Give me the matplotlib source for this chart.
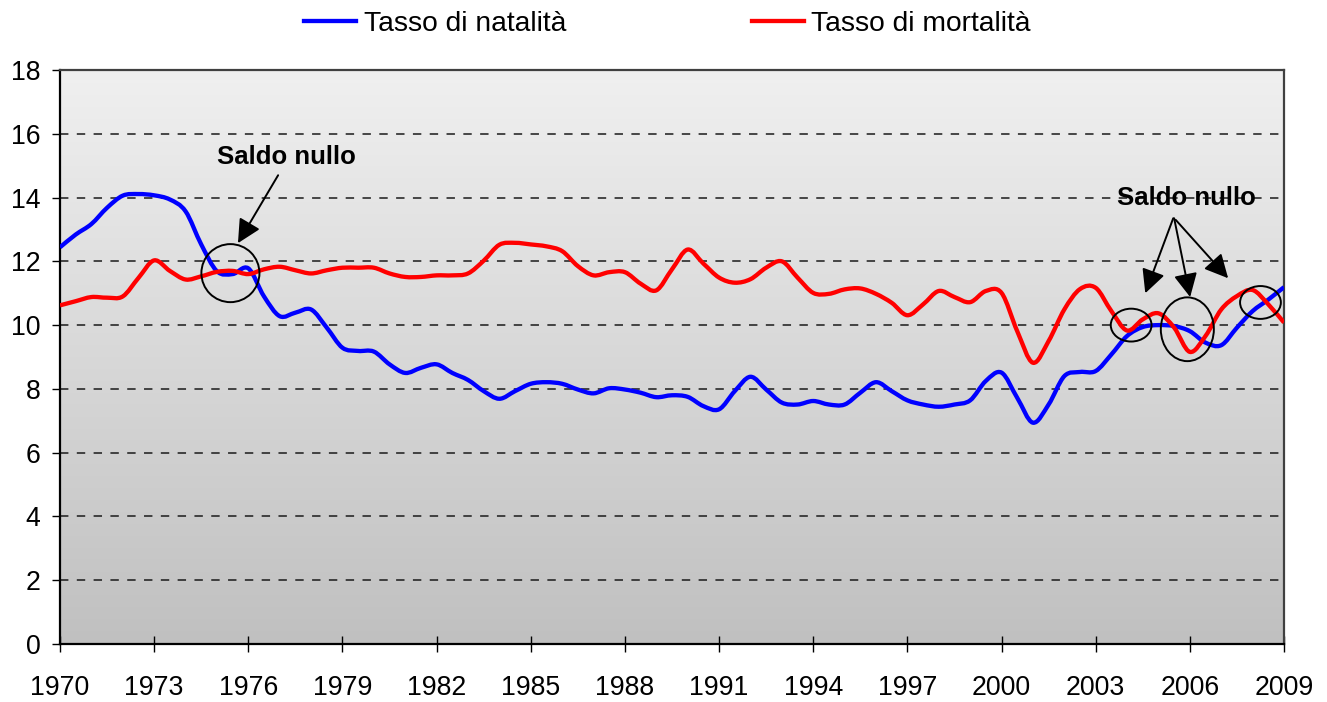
import numpy as np
import matplotlib
matplotlib.use("Agg")
import matplotlib.pyplot as plt
from matplotlib.patches import Ellipse, PathPatch
from matplotlib.path import Path
from matplotlib.lines import Line2D
from matplotlib.colors import LinearSegmentedColormap

plt.rcParams['font.family'] = ['Liberation Sans', 'DejaVu Sans']

# half-year sampling from 1970 to 2009
years = np.arange(1970, 2009.01, 0.5)

natalita = [12.44, 12.84, 13.17, 13.68, 14.06, 14.11, 14.07, 13.94, 13.57, 12.53,
            11.69, 11.60, 11.78, 10.90, 10.28, 10.39, 10.49, 9.92, 9.29, 9.19,
            9.17, 8.77, 8.50, 8.66, 8.77, 8.50, 8.28, 7.93, 7.69, 7.93,
            8.16, 8.21, 8.16, 7.98, 7.86, 8.02, 7.98, 7.88, 7.74, 7.80,
            7.75, 7.46, 7.36, 7.93, 8.38, 7.98, 7.57, 7.51, 7.62, 7.51,
            7.51, 7.88, 8.21, 7.93, 7.64, 7.51, 7.44, 7.51, 7.64, 8.25,
            8.51, 7.72, 6.94, 7.51, 8.40, 8.53, 8.56, 9.08, 9.66, 9.94,
            10.00, 9.97, 9.81, 9.45, 9.37, 9.92, 10.44, 10.80, 11.19]

mortalita = [10.62, 10.75, 10.88, 10.86, 10.90, 11.48, 12.03, 11.70, 11.43, 11.53,
             11.67, 11.70, 11.60, 11.75, 11.83, 11.72, 11.62, 11.72, 11.80, 11.80,
             11.80, 11.62, 11.51, 11.51, 11.56, 11.56, 11.62, 12.02, 12.52, 12.58,
             12.53, 12.47, 12.32, 11.85, 11.56, 11.66, 11.66, 11.30, 11.09, 11.75,
             12.37, 11.93, 11.49, 11.33, 11.44, 11.80, 12.00, 11.49, 11.01, 10.98,
             11.12, 11.15, 10.98, 10.70, 10.31, 10.65, 11.07, 10.88, 10.72, 11.07,
             11.01, 9.81, 8.82, 9.50, 10.49, 11.13, 11.17, 10.44, 9.83, 10.18,
             10.37, 9.92, 9.16, 9.66, 10.49, 10.91, 11.10, 10.65, 10.08]

xticks = list(range(1970, 2010, 3))
yticks = list(range(0, 19, 2))
labels = ['Tasso di natalità', 'Tasso di mortalità']
colors = ['#0000FF', '#FF0000']
annot_text = 'Saldo nullo'


def smooth_path(x, y):
    """Smoothed line through the data points (like a spreadsheet 'smoothed line')."""
    p = np.column_stack([x, y]).astype(float)
    ext = np.vstack([p[0], p, p[-1]])
    verts = [p[0]]
    codes = [Path.MOVETO]
    for i in range(len(p) - 1):
        p0, p1, p2, p3 = ext[i], ext[i + 1], ext[i + 2], ext[i + 3]
        c1 = p1 + (p2 - p0) / 6.0
        c2 = p2 - (p3 - p1) / 6.0
        verts += [c1, c2, p2]
        codes += [Path.CURVE4] * 3
    return Path(verts, codes)


fig = plt.figure(figsize=(13.27, 7.02), dpi=100)
ax = fig.add_axes([60/1327, 58/702, 1224/1327, 574/702])

# gradient background
grad = np.linspace(0, 1, 256).reshape(-1, 1)
cmap = LinearSegmentedColormap.from_list('g', ['#c0c0c0', '#f0f0f0'])
ax.imshow(grad, aspect='auto', cmap=cmap, origin='lower',
          extent=[1970, 2009, 0, 18], zorder=0)

for series, col in [(natalita, colors[0]), (mortalita, colors[1])]:
    ax.add_patch(PathPatch(smooth_path(years, series), fill=False, ec=col,
                           lw=3.1, zorder=3, joinstyle='round', capstyle='butt'))

ax.set_xlim(1970, 2009)
ax.set_ylim(0, 18)
ax.set_xticks(xticks)
ax.set_yticks(yticks)
ax.tick_params(axis='x', direction='inout', length=12, width=1, pad=16,
               labelsize=19.2)
ax.tick_params(axis='y', direction='out', length=6, width=1, pad=8,
               labelsize=19.2)

for v in yticks[1:-1]:
    ax.axhline(v, color='#1a1a1a', lw=1.1, ls=(0, (5.5, 5.5)), zorder=1)

for s in ['left', 'bottom']:
    ax.spines[s].set_linewidth(1.6)
    ax.spines[s].set_color('black')
for s in ['top', 'right']:
    ax.spines[s].set_linewidth(1.6)
    ax.spines[s].set_color('#404040')

# annotations
arrowprops = dict(arrowstyle='-|>', mutation_scale=36, lw=1.4, color='black',
                  shrinkA=0, shrinkB=0)
ax.text(1977.2, 15.27, annot_text, ha='center', va='center', fontsize=18.5,
        fontweight='bold', zorder=5)
ax.annotate('', xy=(1975.67, 12.57), xytext=(1976.95, 14.70),
            arrowprops=arrowprops, zorder=5)
ax.add_patch(Ellipse((1975.43, 11.63), 1.85, 1.82, fill=False, ec='black',
                     lw=1.4, zorder=4))

ax.text(2005.88, 13.98, annot_text, ha='center', va='center', fontsize=18.5,
        fontweight='bold', zorder=5)
for tail, head in [((2005.47, 13.35), (2004.58, 11.0)),
                   ((2005.50, 13.35), (2006.01, 10.88)),
                   ((2005.55, 13.30), (2007.22, 11.47))]:
    ax.annotate('', xy=head, xytext=tail, arrowprops=arrowprops, zorder=5)

for (cx, cy, w, h) in [(2004.13, 10.0, 1.30, 1.03),
                       (2005.92, 9.87, 1.69, 2.0),
                       (2008.25, 10.71, 1.30, 1.03)]:
    ax.add_patch(Ellipse((cx, cy), w, h, fill=False, ec='black', lw=1.4,
                         zorder=4))

handles = [Line2D([], [], color=c, lw=3.1) for c in colors]
fig.legend(handles, labels, loc='center', bbox_to_anchor=(0.503, 0.966), ncol=2,
           frameon=False, fontsize=20.3, handlelength=1.85, handletextpad=0.25,
           columnspacing=6.6)

fig.savefig('out.png', dpi=100)
